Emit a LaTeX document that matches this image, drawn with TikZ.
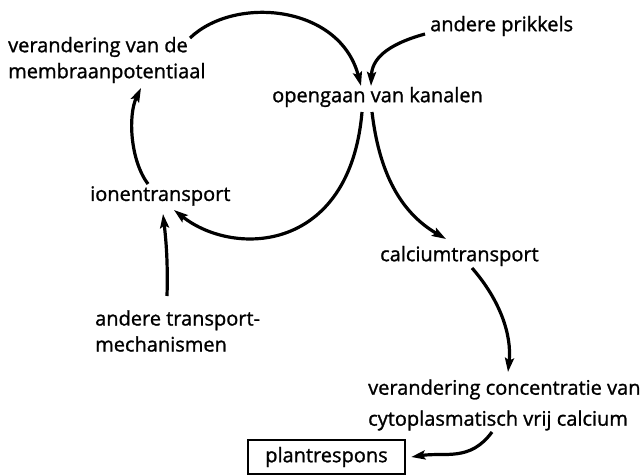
\documentclass[tikz,border=0pt]{standalone}
\usepackage{fontspec}
\setmainfont{Open Sans}
\newfontfamily\lblfont{Open Sans}[BoldFont={Open Sans},BoldFeatures={FakeBold=1.2}]
\usetikzlibrary{arrows.meta}
\begin{document}
\begin{tikzpicture}[x=1pt,y=-1pt,
  lbl/.style={inner sep=0pt,anchor=west,font=\lblfont\bfseries\fontsize{20}{26}\selectfont,align=left},
  conn/.style={line width=3.2pt,-{Stealth[length=14pt,width=9pt,inset=2.5pt]}}]
\useasboundingbox (0,0) rectangle (642,476);
\node[lbl] (memb) at (8,60) {verandering van de\\membraanpotentiaal};
\node[lbl] (prik) at (430,26) {andere prikkels};
\node[lbl] (open) at (272,97) {opengaan van kanalen};
\node[lbl] (ion) at (90,196) {ionentransport};
\node[lbl] (calc) at (380,256) {calciumtransport};
\node[lbl] (atm) at (95,331) {andere transport-\\mechanismen};
\node[lbl,font=\lblfont\bfseries\fontsize{20}{31}\selectfont] (conc) at (368,405) {verandering concentratie van\\cytoplasmatisch vrij calcium};
\node[draw,line width=2.4pt,minimum width=157pt,minimum height=34pt,inner sep=0pt,font=\lblfont\bfseries\fontsize{20}{26}\selectfont] (plant) at (326.5,457) {plantrespons};
% top arc: membrane potential -> opening of channels
\draw[conn] ([shift={(182,-22)}]memb.west) .. controls (235,-5) and (340,5) .. ([shift={(89,-11)}]open.west);
% other stimuli
\draw[conn] ([shift={(-5,8)}]prik.west) .. controls (385,45) and (372,60) .. ([shift={(99,-11)}]open.west);
% opening of channels -> ion transport
\draw[conn] ([shift={(90,15)}]open.west) .. controls (350,252) and (235,258) .. ([shift={(84,14)}]ion.west);
% opening of channels -> calcium transport
\draw[conn] ([shift={(100,15)}]open.west) .. controls (380,180) and (405,215) .. ([shift={(66,-17)}]calc.west);
% ion transport -> membrane potential
\draw[conn] ([shift={(58,-12)}]ion.west) .. controls (130,160) and (128,115) .. ([shift={(133,28)}]memb.west);
% other transport mechanisms -> ion transport
\draw[conn] ([shift={(72,-35)}]atm.west) .. controls (168,262) and (166,240) .. ([shift={(73,18)}]ion.west);
% calcium transport -> concentration change
\draw[conn] ([shift={(92,12)}]calc.west) .. controls (500,300) and (512,335) .. ([shift={(140,-33)}]conc.west);
% concentration change -> plant response
\draw[conn] ([shift={(124,27)}]conc.west) .. controls (470,462) and (445,452) .. ([shift={(5,0)}]plant.east);
\end{tikzpicture}
\end{document}
